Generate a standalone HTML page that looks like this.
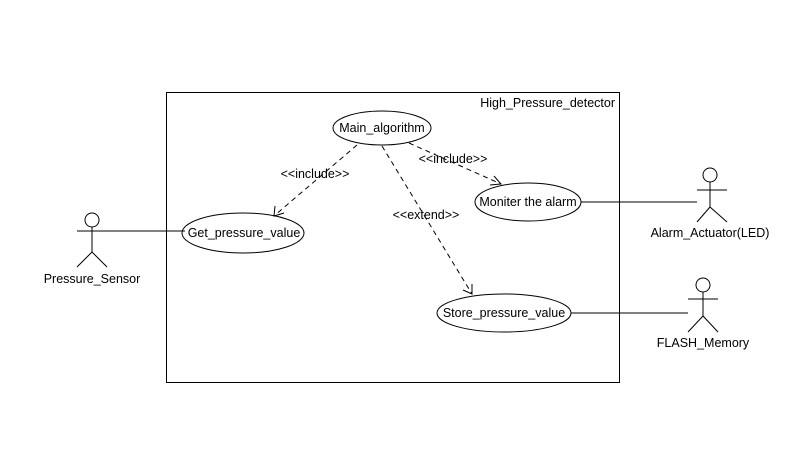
<!DOCTYPE html>
<html><head><style>
html,body{margin:0;padding:0;background:#fff;}
svg text{font-family:"Liberation Sans",sans-serif;font-size:12.5px;fill:#000;}
</style></head><body>
<svg width="791" height="465" viewBox="0 0 791 465" xmlns="http://www.w3.org/2000/svg">
<rect x="0" y="0" width="791" height="465" fill="#fff"/>
<rect x="166.5" y="92.5" width="453" height="290" fill="none" stroke="#000"/>
<text x="615" y="107" text-anchor="end">High_Pressure_detector</text>
<g fill="none" stroke="#000">
<ellipse cx="382" cy="128" rx="49" ry="17"/>
<ellipse cx="243" cy="233" rx="61" ry="20"/>
<ellipse cx="528" cy="202" rx="53" ry="19"/>
<ellipse cx="504" cy="313" rx="67" ry="19"/>
<circle cx="92" cy="220" r="7"/>
<line x1="92" y1="227" x2="92" y2="252"/><line x1="77" y1="231" x2="107" y2="231"/>
<line x1="92" y1="252" x2="77" y2="267"/><line x1="92" y1="252" x2="107" y2="267"/>
<circle cx="710" cy="175" r="7"/>
<line x1="710" y1="182" x2="710" y2="207"/><line x1="697" y1="190" x2="727" y2="190"/>
<line x1="710" y1="207" x2="697" y2="222"/><line x1="710" y1="207" x2="727" y2="222"/>
<circle cx="703" cy="285" r="7"/>
<line x1="703" y1="292" x2="703" y2="316"/><line x1="688" y1="299" x2="718" y2="299"/>
<line x1="703" y1="316" x2="688" y2="332"/><line x1="703" y1="316" x2="718" y2="332"/>
<line x1="107" y1="231" x2="185" y2="231"/>
<line x1="581" y1="202" x2="697" y2="202"/>
<line x1="571" y1="313" x2="688" y2="313"/>
<g stroke-dasharray="5,4">
<line x1="357" y1="145" x2="274" y2="216"/>
<line x1="409" y1="143" x2="501" y2="184"/>
<line x1="382" y1="146" x2="472" y2="294"/>
</g>
<polyline points="275,206 274,216 284,213"/>
<polyline points="494,176 501,184 490,185"/>
<polyline points="463,290 472,294 472,284"/>
</g>
<text x="315" y="178" text-anchor="middle">&lt;&lt;include&gt;&gt;</text>
<text x="453" y="163" text-anchor="middle">&lt;&lt;include&gt;&gt;</text>
<text x="426" y="219" text-anchor="middle">&lt;&lt;extend&gt;&gt;</text>
<text x="382" y="132" text-anchor="middle">Main_algorithm</text>
<text x="244" y="237" text-anchor="middle">Get_pressure_value</text>
<text x="528" y="206" text-anchor="middle">Moniter the alarm</text>
<text x="504" y="317" text-anchor="middle">Store_pressure_value</text>
<text x="92" y="283" text-anchor="middle">Pressure_Sensor</text>
<text x="710" y="237" text-anchor="middle">Alarm_Actuator(LED)</text>
<text x="703" y="347" text-anchor="middle">FLASH_Memory</text>
</svg>
</body></html>
